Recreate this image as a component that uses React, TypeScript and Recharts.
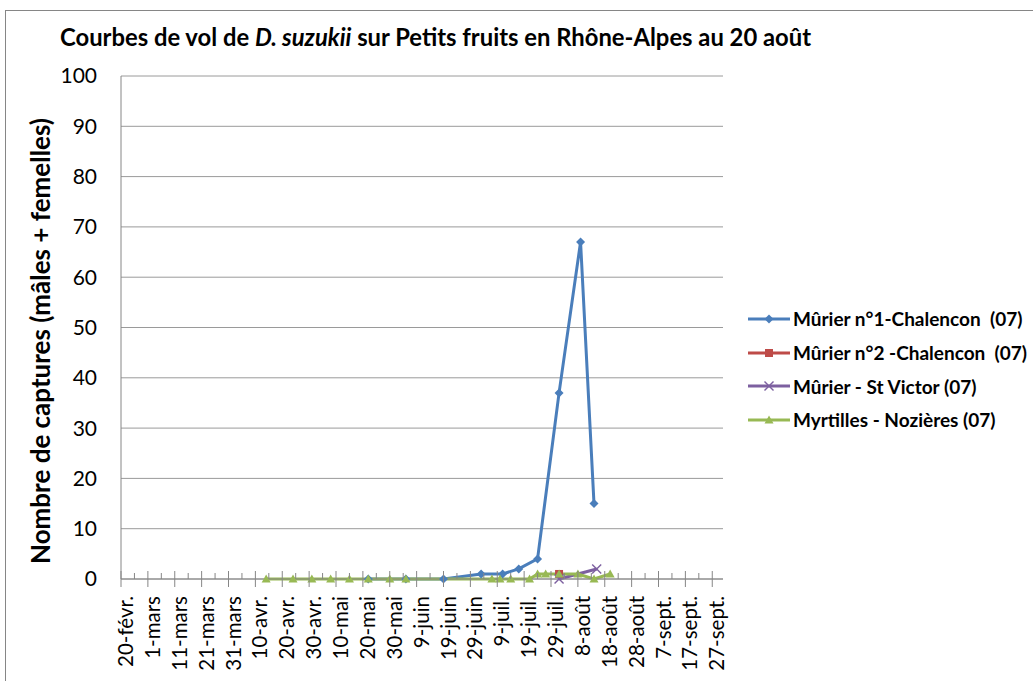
import { LineChart, Line, XAxis, YAxis, CartesianGrid, Legend } from 'recharts'

// x values are days counted from 20-févr. (2012, leap year)
const tickLabels = [
  '20-févr.', '1-mars', '11-mars', '21-mars', '31-mars', '10-avr.', '20-avr.', '30-avr.',
  '10-mai', '20-mai', '30-mai', '9-juin', '19-juin', '29-juin', '9-juil.', '19-juil.',
  '29-juil.', '8-août', '18-août', '28-août', '7-sept.', '17-sept.', '27-sept.',
]
const yTicks = [0, 10, 20, 30, 40, 50, 60, 70, 80, 90, 100]

const murier1Days = [92, 106, 120, 134, 142, 148, 155, 163, 171, 176]
const murier1Counts = [0, 0, 0, 1, 1, 2, 4, 37, 67, 15]

const murier2Days = [163]
const murier2Counts = [1]

const stVictorDays = [163, 177]
const stVictorCounts = [0, 2]

const myrtillesDays = [54, 64, 71, 78, 85, 92, 100, 106, 138, 141, 145, 152, 155, 158, 163, 170, 176, 182]
const myrtillesCounts = [0, 0, 0, 0, 0, 0, 0, 0, 0, 0, 0, 0, 1, 1, 1, 1, 0, 1]

const toPoints = (days: number[], counts: number[]) => days.map((d, i) => ({ day: d, count: counts[i] }))

type Marker = 'diamond' | 'square' | 'cross' | 'triangle'

const series: { name: string; color: string; marker: Marker; data: { day: number; count: number }[] }[] = [
  { name: 'Mûrier n°1-Chalencon  (07)', color: '#4a7ebb', marker: 'diamond', data: toPoints(murier1Days, murier1Counts) },
  { name: 'Mûrier n°2 -Chalencon  (07)', color: '#be4b48', marker: 'square', data: toPoints(murier2Days, murier2Counts) },
  { name: 'Mûrier - St Victor (07)', color: '#7d60a0', marker: 'cross', data: toPoints(stVictorDays, stVictorCounts) },
  { name: 'Myrtilles - Nozières (07)', color: '#98b954', marker: 'triangle', data: toPoints(myrtillesDays, myrtillesCounts) },
]

const tickDays = tickLabels.flatMap((_, i) => (i < tickLabels.length - 1 ? [i * 10, i * 10 + 5] : [i * 10]))

const axisGray = '#868686'
const gridGray = '#9a9a9a'
const font = 'Lato, "Open Sans", sans-serif'

function MarkerShape({ type, cx, cy, color }: { type: Marker; cx: number; cy: number; color: string }) {
  if (type === 'diamond') {
    return <polygon points={`${cx},${cy - 4.5} ${cx + 4.5},${cy} ${cx},${cy + 4.5} ${cx - 4.5},${cy}`} fill={color} />
  }
  if (type === 'square') {
    return <rect x={cx - 4} y={cy - 4} width={8} height={8} fill={color} />
  }
  if (type === 'cross') {
    return (
      <g stroke={color} strokeWidth={1.4}>
        <line x1={cx - 4.5} y1={cy - 4.5} x2={cx + 4.5} y2={cy + 4.5} />
        <line x1={cx - 4.5} y1={cy + 4.5} x2={cx + 4.5} y2={cy - 4.5} />
      </g>
    )
  }
  return <polygon points={`${cx},${cy - 4.5} ${cx + 4.5},${cy + 3.5} ${cx - 4.5},${cy + 3.5}`} fill={color} />
}

function DayTick(props: any) {
  const { x, y, payload } = props
  const idx = payload.value / 10
  const major = Number.isInteger(idx)
  const tx = x + 12
  const ty = y + 17
  return (
    <g>
      <line x1={x} x2={x} y1={major ? y - 8 : y - 6} y2={major ? y + 8 : y} stroke={axisGray} />
      {major && (
        <text x={tx} y={ty} transform={`rotate(-90 ${tx} ${ty})`} textAnchor="end" fontFamily={font} fontSize={20.5} fill="#000">
          {tickLabels[idx]}
        </text>
      )}
    </g>
  )
}

function LegendBox() {
  return (
    <div style={{ fontFamily: font, fontWeight: 700, fontSize: 19, color: '#000' }}>
      {series.map((s) => (
        <div key={s.name} style={{ height: 33.7, display: 'flex', alignItems: 'center' }}>
          <svg width={46} height={20} style={{ flex: 'none' }}>
            <line x1={2} x2={44} y1={10} y2={10} stroke={s.color} strokeWidth={3} />
            <MarkerShape type={s.marker} cx={23} cy={10} color={s.color} />
          </svg>
          <span style={{ whiteSpace: 'pre', marginLeft: 1 }}>{s.name}</span>
        </div>
      ))}
    </div>
  )
}

export default function App() {
  return (
    <div style={{ position: 'absolute', left: 0, top: 0, width: 1033, height: 681, overflow: 'hidden', background: '#fff' }}>
      <div style={{ position: 'absolute', left: 5, top: 10, width: 1100, height: 800, border: `1px solid ${axisGray}` }} />
      <div style={{ position: 'absolute', left: 0, top: 0 }}>
        <LineChart width={1033} height={681} margin={{ top: 76, right: 310, left: 0, bottom: 0 }}>
          <text x={60} y={46} fontFamily={font} fontWeight={700} fontSize={23.8} fill="#000">
            Courbes de vol de <tspan fontStyle="italic">D. suzukii</tspan> sur Petits fruits en Rhône-Alpes au 20 août
          </text>
          <text
            x={50}
            y={341}
            transform="rotate(-90 50 341)"
            textAnchor="middle"
            fontFamily={font}
            fontWeight={700}
            fontSize={26}
            fill="#000"
          >
            Nombre de captures (mâles + femelles)
          </text>
          <CartesianGrid vertical={false} stroke={gridGray} />
          <XAxis
            type="number"
            dataKey="day"
            domain={[0, 224]}
            ticks={tickDays}
            interval={0}
            height={102}
            tickSize={0}
            tickMargin={0}
            tickLine={false}
            axisLine={{ stroke: axisGray }}
            tick={<DayTick />}
            allowDuplicatedCategory={false}
          />
          <YAxis
            type="number"
            domain={[0, 100]}
            ticks={yTicks}
            interval={0}
            width={121}
            tickSize={0}
            tickMargin={24}
            tickLine={false}
            axisLine={{ stroke: axisGray }}
            tick={{ fontFamily: font, fontSize: 21, fill: '#000' }}
          />
          <Legend
            layout="vertical"
            align="center"
            verticalAlign="middle"
            wrapperStyle={{ left: 746, top: 302, width: 290 }}
            content={() => <LegendBox />}
          />
          {series.map((s) => (
            <Line
              key={s.name}
              name={s.name}
              data={s.data}
              dataKey="count"
              type="linear"
              stroke={s.color}
              strokeWidth={3}
              isAnimationActive={false}
              dot={(p: any) => <MarkerShape key={`${s.name}-${p.index}`} type={s.marker} cx={p.cx} cy={p.cy} color={s.color} />}
              activeDot={false}
            />
          ))}
        </LineChart>
      </div>
    </div>
  )
}
